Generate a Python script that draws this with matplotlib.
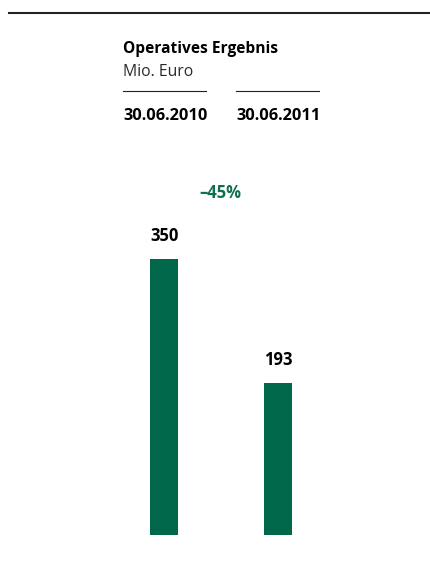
import matplotlib.pyplot as plt
from matplotlib.lines import Line2D

# =============================================================================
#  Data
# =============================================================================
title = "Operatives Ergebnis"
unit = "Mio. Euro"
periods = ["30.06.2010", "30.06.2011"]
values = [350, 193]
change_label = "\u201345%"

# =============================================================================
#  Style
# =============================================================================
plt.rcParams["font.family"] = ["Open Sans", "DejaVu Sans"]
GREEN = "#00674a"
W, H = 431, 562


def fx(x):
    return x / W


def fy(y):
    return 1 - y / H


fig = plt.figure(figsize=(W / 100, H / 100), dpi=100)

# top rule
fig.add_artist(Line2D([fx(9), fx(431)], [fy(13), fy(13)], color="#222222", linewidth=1.5))

# header
fig.text(fx(123), fy(53), title, fontsize=11.2, fontweight="bold", va="baseline", ha="left")
fig.text(fx(123), fy(76), unit, fontsize=11.3, color="#2a2a2a", va="baseline", ha="left")

col_x = [123, 236]
for x0, p in zip(col_x, periods):
    fig.add_artist(Line2D([fx(x0), fx(x0 + 83)], [fy(91), fy(91)], color="#222222", linewidth=0.8))
    fig.text(fx(x0), fy(120), p, fontsize=11.8, fontweight="bold", va="baseline", ha="left")

# =============================================================================
#  Bars
# =============================================================================
ax_left, ax_right = 107.75, 334.75
ax_bottom, ax_top = 535, 155
ax = fig.add_axes([fx(ax_left), fy(ax_bottom), fx(ax_right - ax_left), (ax_bottom - ax_top) / H])
ax.set_xlim(-0.5, 1.5)
ax.set_ylim(0, (ax_bottom - ax_top) / (276 / 350))
ax.axis("off")

xs = range(len(values))
ax.bar(xs, values, width=28 / 113.5, color=GREEN)

for x, v in zip(xs, values):
    ax.annotate(
        f"{v}",
        xy=(x, v),
        xytext=(0, 13),
        textcoords="offset points",
        ha="center",
        va="baseline",
        fontsize=12,
        fontweight="bold",
    )

fig.text(fx(220), fy(198), change_label, fontsize=12, fontweight="bold",
         color="#0f7050", ha="center", va="baseline")

plt.savefig("out.png", dpi=100)
